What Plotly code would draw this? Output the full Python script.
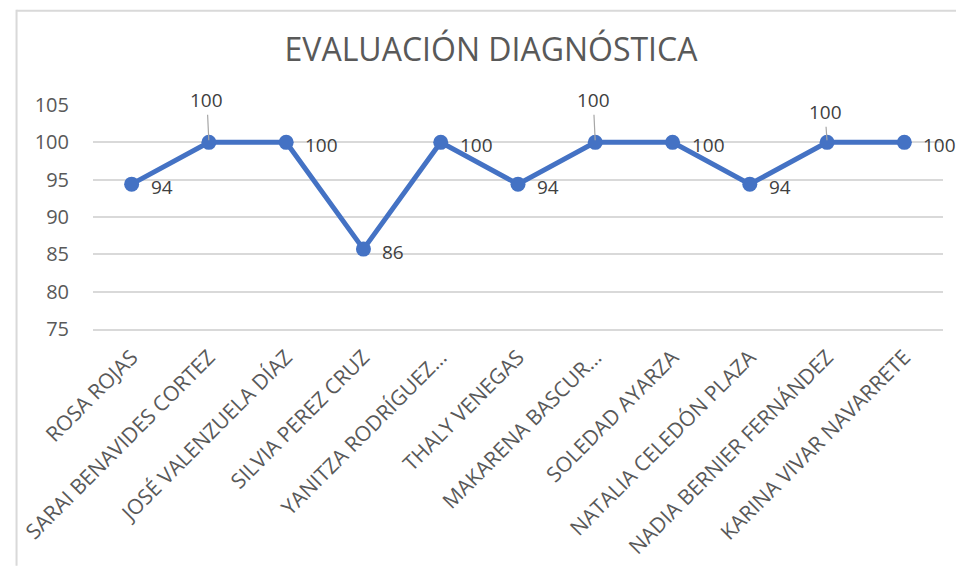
import plotly.graph_objects as go

# ---- data ----
students = [
    "ROSA ROJAS",
    "SARAI BENAVIDES CORTEZ",
    "JOSÉ VALENZUELA DÍAZ",
    "SILVIA PEREZ CRUZ",
    "YANITZA RODRÍGUEZ…",
    "THALY VENEGAS",
    "MAKARENA BASCUR…",
    "SOLEDAD AYARZA",
    "NATALIA CELEDÓN PLAZA",
    "NADIA BERNIER FERNÁNDEZ",
    "KARINA VIVAR NAVARRETE",
]
scores = [94.4, 100, 100, 85.7, 100, 94.4, 100, 100, 94.4, 100, 100]
score_labels = ["94", "100", "100", "86", "100", "94", "100", "100", "94", "100", "100"]
y_ticks = [75, 80, 85, 90, 95, 100, 105]

# ---- label placement (style) ----
label_place = ["right", "above", "right", "right", "right", "right",
               "above", "right", "right", "above", "right"]
above_offset = [0, -42, 0, 0, 0, 0, -42, 0, 0, -30, 0]

FONT = "Open Sans"
GRAY = "#595959"
LABEL_GRAY = "#404040"
BLUE = "#4472C4"
GRID = "#D9D9D9"

# the page body has an 8px margin: size the figure so the page fits the window
W, H = 948, 564
L, T = 79, 97
R = W - (943 - 8)
B = H - (333 - 8)
PW, PH = W - L - R, H - T - B

fig = go.Figure()
fig.add_trace(go.Scatter(
    x=students, y=scores, mode="lines+markers",
    line=dict(color=BLUE, width=5),
    marker=dict(color=BLUE, size=15),
    hoverinfo="x+y", showlegend=False,
))

annotations = []
for s, v, t, p, off in zip(students, scores, score_labels, label_place, above_offset):
    if p == "right":
        annotations.append(dict(
            x=s, y=v, xref="x", yref="y", text=t, showarrow=False,
            xanchor="left", yanchor="middle", xshift=17, yshift=-3,
            font=dict(family=FONT, size=19, color=LABEL_GRAY),
        ))
    else:
        annotations.append(dict(
            x=s, y=v, xref="x", yref="y", text=t, showarrow=True,
            ax=-2, ay=off, arrowhead=0, arrowwidth=1.2, arrowcolor="#A6A6A6",
            standoff=2,
            font=dict(family=FONT, size=19, color=LABEL_GRAY),
        ))

fig.update_layout(
    width=W, height=H,
    margin=dict(l=L, r=R, t=T, b=B),
    paper_bgcolor="white", plot_bgcolor="white",
    title=dict(text="EVALUACIÓN DIAGNÓSTICA", x=(491 - 8) / W, xanchor="center",
               y=1 - 42 / H, yanchor="middle", yref="container",
               font=dict(family=FONT, size=32, color=GRAY)),
    font=dict(family=FONT, color=GRAY),
    annotations=annotations,
    xaxis=dict(
        type="category", range=[-0.5, len(students) - 0.5],
        showgrid=False, showline=True, linecolor=GRID, linewidth=1.5,
        tickangle=-45, tickfont=dict(family=FONT, size=21, color=GRAY),
        ticks="", ticklabelstandoff=6, fixedrange=True,
    ),
    yaxis=dict(
        range=[75, 105], tickvals=y_ticks, showgrid=True, gridcolor=GRID, gridwidth=1.5,
        zeroline=False, showline=False, ticks="",
        tickfont=dict(family=FONT, size=20, color=GRAY), ticklabelstandoff=23,
        fixedrange=True,
    ),
    shapes=[
        dict(type="line", xref="paper", yref="paper",
             x0=(2 - L) / PW, x1=(2 - L) / PW,
             y0=(T + PH) / PH, y1=-(B + 2) / PH,
             line=dict(color=GRID, width=2)),
        dict(type="line", xref="paper", yref="paper",
             x0=(2 - L) / PW, x1=(W + 2 - L) / PW,
             y0=(T + PH - 1) / PH, y1=(T + PH - 1) / PH,
             line=dict(color=GRID, width=2)),
    ],
)

fig.write_html("out.html")
